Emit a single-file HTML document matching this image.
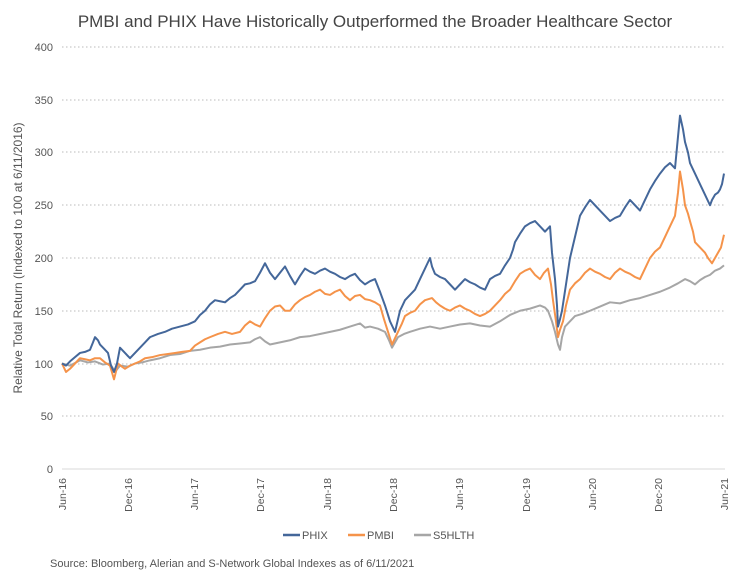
<!DOCTYPE html>
<html><head><meta charset="utf-8"><style>
body{margin:0;background:#fff;width:750px;height:580px;overflow:hidden;font-family:"Liberation Sans",sans-serif}
</style></head><body>
<svg width="750" height="580" xmlns="http://www.w3.org/2000/svg" font-family="Liberation Sans, sans-serif">
<text x="375" y="27" text-anchor="middle" font-size="17" fill="#444">PMBI and PHIX Have Historically Outperformed the Broader Healthcare Sector</text>
<g stroke="#bbb" stroke-width="1" stroke-dasharray="1.5,2.5">
<line x1="62" x2="725" y1="47" y2="47"/><line x1="62" x2="725" y1="100" y2="100"/><line x1="62" x2="725" y1="152" y2="152"/><line x1="62" x2="725" y1="205" y2="205"/><line x1="62" x2="725" y1="258" y2="258"/><line x1="62" x2="725" y1="311" y2="311"/><line x1="62" x2="725" y1="364" y2="364"/><line x1="62" x2="725" y1="416" y2="416"/>
</g>
<line x1="62" x2="725" y1="469" y2="469" stroke="#d9d9d9" stroke-width="1"/>
<g font-size="11" fill="#555" text-anchor="end">
<text x="53" y="51">400</text><text x="53" y="104">350</text><text x="53" y="156">300</text><text x="53" y="209">250</text><text x="53" y="262">200</text><text x="53" y="315">150</text><text x="53" y="368">100</text><text x="53" y="420">50</text><text x="53" y="473">0</text>
</g>
<text transform="translate(22,258) rotate(-90)" text-anchor="middle" font-size="12" fill="#555">Relative Total Return (Indexed to 100 at 6/11/2016)</text>
<g font-size="10.5" fill="#555" text-anchor="end">
<text transform="translate(66,478) rotate(-90)">Jun-16</text>
<text transform="translate(132,478) rotate(-90)">Dec-16</text>
<text transform="translate(198,478) rotate(-90)">Jun-17</text>
<text transform="translate(264,478) rotate(-90)">Dec-17</text>
<text transform="translate(331,478) rotate(-90)">Jun-18</text>
<text transform="translate(397,478) rotate(-90)">Dec-18</text>
<text transform="translate(463,478) rotate(-90)">Jun-19</text>
<text transform="translate(530,478) rotate(-90)">Dec-19</text>
<text transform="translate(596,478) rotate(-90)">Jun-20</text>
<text transform="translate(662,478) rotate(-90)">Dec-20</text>
<text transform="translate(728,478) rotate(-90)">Jun-21</text>
</g>
<g transform="translate(0,469) scale(1,-1.055)" fill="none" stroke-width="2" stroke-linejoin="round">
<polyline vector-effect="non-scaling-stroke" stroke="#a6a6a6" points="62,100 70,98 80,103 88,101 95,102 103,99 110,100 115,92 120,98 128,97 135,100 142,101 150,103 160,105 170,108 180,109 190,112 200,113 210,115 220,116 230,118 240,119 250,120 255,123 260,125 265,121 270,118 280,120 290,122 300,125 310,126 320,128 330,130 340,132 350,135 360,138 365,134 370,135 378,133 385,130 389,122 392,115 395,120 398,125 404,128 410,130 420,133 430,135 440,133 450,135 460,137 470,138 480,136 490,135 500,140 510,146 520,150 530,152 540,155 545,153 548,150 552,140 555,130 558,118 560,113 562,125 565,135 570,140 575,145 582,147 590,150 600,154 610,158 620,157 630,160 640,162 650,165 660,168 670,172 678,176 685,180 690,178 695,175 700,179 705,182 710,184 715,188 720,190 724,193"/>
<polyline vector-effect="non-scaling-stroke" stroke="#f5934a" points="62,100 66,92 70,95 75,100 80,105 85,104 90,103 95,105 100,105 105,101 110,98 114,85 118,100 122,97 125,95 130,98 135,100 140,102 145,105 152,106 160,108 168,109 175,110 182,111 190,112 195,117 200,120 205,123 210,125 218,128 225,130 232,128 240,130 245,136 250,140 255,137 260,135 265,143 270,150 275,154 280,155 285,150 290,150 295,156 300,160 305,163 310,165 315,168 320,170 325,166 330,165 335,168 340,170 345,164 350,160 355,164 360,165 365,161 370,160 375,158 380,155 384,142 388,130 392,118 395,124 398,130 402,138 405,145 410,148 415,150 420,156 425,160 432,162 436,158 440,155 445,152 450,150 455,153 460,155 465,152 470,150 475,147 480,145 485,147 490,150 495,155 500,160 505,166 510,170 515,178 520,185 525,188 530,190 535,184 540,180 544,186 548,190 551,175 553,160 556,140 558,125 560,132 563,140 566,155 570,170 575,176 580,180 585,186 590,190 595,187 600,185 605,182 610,180 615,186 620,190 625,187 630,185 635,182 640,180 645,190 650,200 655,206 660,210 665,220 670,230 675,240 678,262 680,282 683,265 685,250 688,242 690,235 693,225 695,215 700,210 705,205 708,200 712,195 715,200 718,205 721,210 724,222"/>
<polyline vector-effect="non-scaling-stroke" stroke="#44679a" points="62,100 66,98 70,102 75,106 80,110 85,111 90,113 93,120 95,125 98,122 100,118 104,114 108,110 111,98 114,92 117,100 120,115 125,110 130,105 135,110 140,115 145,120 150,125 158,128 165,130 172,133 180,135 188,137 195,140 200,146 205,150 210,156 215,160 220,159 225,158 230,162 235,165 240,170 245,175 250,176 255,178 260,186 265,195 270,186 275,180 280,186 285,192 290,183 295,175 300,183 305,190 310,187 315,185 320,188 325,190 330,187 335,185 340,182 345,180 350,183 355,185 360,179 365,175 370,178 375,180 380,168 385,155 388,146 390,140 393,134 395,130 398,142 400,150 403,156 405,160 410,165 415,170 420,180 425,190 430,200 432,192 435,185 440,182 445,180 450,175 455,170 460,175 465,180 470,177 475,175 480,172 485,170 488,176 490,180 495,183 500,185 505,193 510,200 513,208 515,215 520,223 525,230 530,233 535,235 540,230 545,225 548,228 550,230 552,205 555,180 557,155 558,135 560,142 562,150 566,175 570,200 575,220 580,240 585,248 590,255 595,250 600,245 605,240 610,235 615,238 620,240 625,248 630,255 635,250 640,245 645,255 650,265 655,273 660,280 665,286 670,290 675,285 677,305 680,335 683,322 685,310 688,300 690,290 695,280 700,270 705,260 710,250 712,255 715,260 718,262 720,265 722,270 724,280"/>
</g>
<g font-size="11" fill="#555">
<line x1="283" x2="300" y1="535" y2="535" stroke="#44679a" stroke-width="2.5"/><text x="302" y="539">PHIX</text>
<line x1="348" x2="365" y1="535" y2="535" stroke="#f5934a" stroke-width="2.5"/><text x="367" y="539">PMBI</text>
<line x1="414" x2="431" y1="535" y2="535" stroke="#a6a6a6" stroke-width="2.5"/><text x="433" y="539">S5HLTH</text>
</g>
<text x="50" y="567" font-size="11" fill="#555">Source: Bloomberg, Alerian and S-Network Global Indexes as of 6/11/2021</text>
</svg>
</body></html>
